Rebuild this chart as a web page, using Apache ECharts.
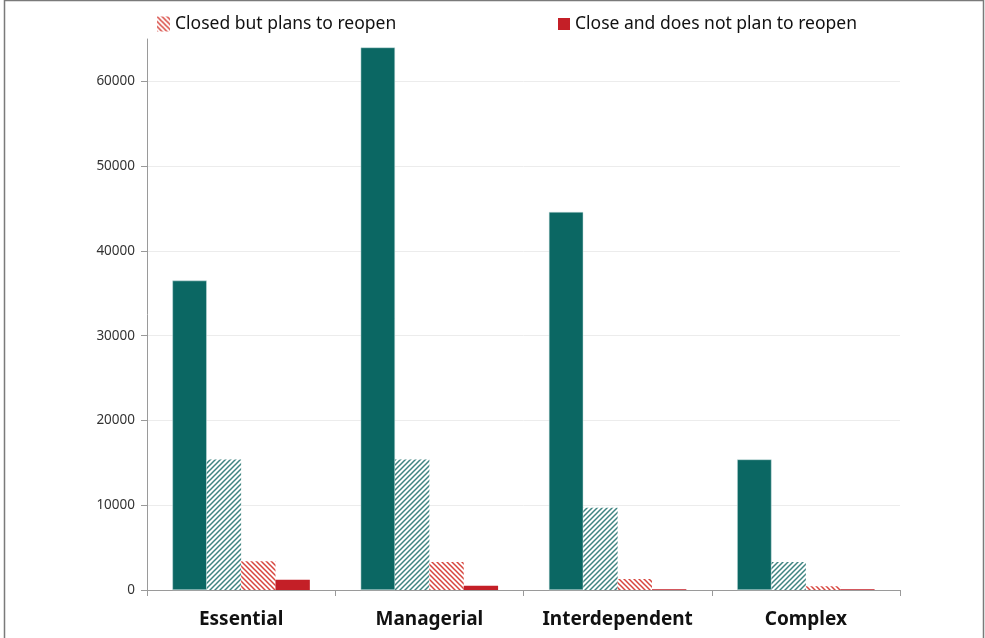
<!DOCTYPE html>
<html>
<head>
<meta charset="utf-8">
<script src="https://cdn.jsdelivr.net/npm/echarts@6/dist/echarts.min.js"></script>
<style>html,body{margin:0;padding:0;background:#fff}#c{width:985px;height:638px}</style>
</head>
<body>
<div id="c"></div>
<script>
const categories = ['Essential', 'Managerial', 'Interdependent', 'Complex'];
const seriesNames = ['Open', 'Partially open', 'Closed but plans to reopen', 'Close and does not plan to reopen'];
const openVals = [36500, 64000, 44600, 15400];
const partialVals = [15400, 15400, 9700, 3300];
const closedReopenVals = [3400, 3300, 1300, 450];
const closedPermVals = [1200, 500, 100, 100];
const yTicks = [0, 10000, 20000, 30000, 40000, 50000, 60000];

function hatch(color, dir, bg) {
  const s = 5;
  const c = document.createElement('canvas');
  c.width = s; c.height = s;
  const g = c.getContext('2d');
  g.fillStyle = bg; g.fillRect(0, 0, s, s);
  g.strokeStyle = color; g.lineWidth = 1.5;
  g.beginPath();
  if (dir === '/') {
    g.moveTo(-1, s + 1); g.lineTo(s + 1, -1);
    g.moveTo(-1, 1); g.lineTo(1, -1);
    g.moveTo(s - 1, s + 1); g.lineTo(s + 1, s - 1);
  } else {
    g.moveTo(-1, -1); g.lineTo(s + 1, s + 1);
    g.moveTo(s - 1, -1); g.lineTo(s + 1, 1);
    g.moveTo(-1, s - 1); g.lineTo(1, s + 1);
  }
  g.stroke();
  return { image: c, repeat: 'repeat' };
}

const chart = echarts.init(document.getElementById('c'));
const font = '"Noto Sans", "Open Sans", sans-serif';
chart.setOption({
  animation: false,
  backgroundColor: '#fff',
  graphic: [{
    type: 'rect', silent: true,
    shape: { x: 4.5, y: 0.5, width: 979, height: 660 },
    style: { fill: 'none', stroke: '#7a7a7a', lineWidth: 1.5 }
  }],
  legend: [
    { data: [seriesNames[2]], left: 152, top: 10, icon: 'rect', itemWidth: 13, itemHeight: 15, itemGap: 5,
      textStyle: { fontFamily: font, fontSize: 17.5, color: '#111' } },
    { data: [seriesNames[3]], left: 553, top: 10, icon: 'rect', itemWidth: 12, itemHeight: 12, itemGap: 5,
      textStyle: { fontFamily: font, fontSize: 17.5, color: '#111' } }
  ],
  grid: { left: 147, right: 85, top: 39, bottom: 48 },
  xAxis: {
    type: 'category', data: categories,
    axisLine: { lineStyle: { color: '#9a9a9a', width: 1 } },
    axisTick: { show: true, interval: 0, length: 6, lineStyle: { color: '#9a9a9a' } },
    axisLabel: { interval: 0, hideOverlap: false, fontFamily: font, fontSize: 19, fontWeight: 'bold', color: '#111', margin: 20 }
  },
  yAxis: {
    type: 'value', min: 0, max: 65000, interval: 10000,
    axisLine: { show: true, lineStyle: { color: '#9a9a9a', width: 1 } },
    axisTick: { show: true, length: 6, lineStyle: { color: '#9a9a9a' } },
    axisLabel: { fontFamily: font, fontSize: 13.5, color: '#333', margin: 12, showMaxLabel: false,
      formatter: v => (yTicks.indexOf(v) >= 0 ? String(v) : '') },
    splitLine: { show: true, showMaxLine: false, lineStyle: { color: '#ececec' } }
  },
  series: [
    { name: seriesNames[0], type: 'bar', data: openVals, barGap: '0%', barCategoryGap: '27%',
      itemStyle: { color: '#0b6763', borderColor: '#cfe3e2', borderWidth: 0.5 } },
    { name: seriesNames[1], type: 'bar', data: partialVals,
      itemStyle: { color: hatch('#3f8481', '/', '#ffffff') } },
    { name: seriesNames[2], type: 'bar', data: closedReopenVals,
      itemStyle: { color: hatch('#d7453e', '\\', '#ffffff') } },
    { name: seriesNames[3], type: 'bar', data: closedPermVals,
      itemStyle: { color: '#c41f27' } }
  ]
});
</script>
</body>
</html>
